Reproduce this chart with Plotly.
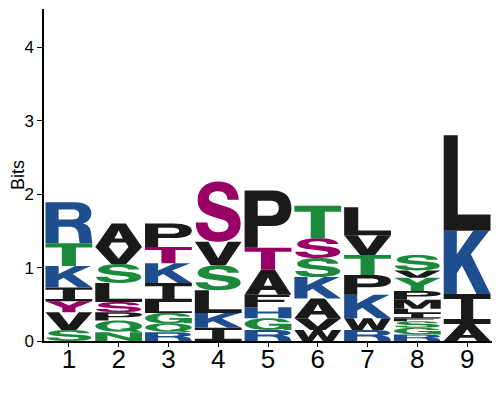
import plotly.graph_objects as go

# ---------------- data (bottom -> top in each column) ----------------
positions = [1, 2, 3, 4, 5, 6, 7, 8, 9]

letters = [
    ["S", "V", "Y", "I", "K", "T", "R"],
    ["N", "Q", "P", "S", "L", "S", "V", "A"],
    ["R", "Q", "G", "L", "I", "K", "T", "P"],
    ["I", "K", "L", "S", "V", "S"],
    ["R", "G", "H", "F", "A", "T", "P"],
    ["W", "V", "A", "K", "S", "S", "T"],
    ["R", "W", "K", "P", "T", "V", "L"],
    ["R", "G", "S", "F", "I", "L", "M", "P", "Y", "V", "S"],
    ["A", "I", "K", "L"],
]

bits = [
    [0.15, 0.24, 0.15, 0.19, 0.29, 0.31, 0.56],
    [0.12, 0.16, 0.11, 0.14, 0.26, 0.26, 0.23, 0.32],
    [0.12, 0.12, 0.14, 0.15, 0.26, 0.27, 0.22, 0.32],
    [0.18, 0.20, 0.31, 0.34, 0.32, 0.82],
    [0.15, 0.16, 0.15, 0.17, 0.34, 0.30, 0.78],
    [0.15, 0.16, 0.27, 0.29, 0.26, 0.27, 0.44],
    [0.15, 0.16, 0.32, 0.27, 0.27, 0.27, 0.38],
    [0.09, 0.09, 0.09, 0.04, 0.07, 0.06, 0.12, 0.12, 0.18, 0.10, 0.21],
    [0.23, 0.41, 0.86, 1.30],
]

# colour class per letter: g = polar, k = hydrophobic, b = basic, m = modified
classes = [
    ["g", "k", "m", "k", "b", "g", "b"],
    ["g", "g", "k", "m", "k", "g", "k", "k"],
    ["b", "g", "g", "k", "k", "b", "m", "k"],
    ["k", "b", "k", "g", "k", "m"],
    ["b", "g", "b", "k", "k", "m", "k"],
    ["k", "k", "k", "b", "g", "m", "g"],
    ["b", "k", "b", "k", "g", "k", "k"],
    ["b", "g", "g", "k", "k", "k", "k", "k", "g", "k", "g"],
    ["k", "k", "b", "k"],
]

tick_labels = ["1", "2", "3", "4", "5", "6", "7", "8", "9"]
y_ticks = [0, 1, 2, 3, 4]

palette = {"g": "#1B8A3C", "k": "#1A1A1A", "b": "#1F4E8F", "m": "#990066"}

# ---------------- glyph outlines in a unit box ----------------
def poly(*pts):
    return [("M",) + pts[0]] + [("L",) + p for p in pts[1:]]


def ellipse(cx, cy, rx, ry):
    k = 0.5523
    return [
        ("M", cx, cy - ry),
        ("C", cx + k * rx, cy - ry, cx + rx, cy - k * ry, cx + rx, cy),
        ("C", cx + rx, cy + k * ry, cx + k * rx, cy + ry, cx, cy + ry),
        ("C", cx - k * rx, cy + ry, cx - rx, cy + k * ry, cx - rx, cy),
        ("C", cx - rx, cy - k * ry, cx - k * rx, cy - ry, cx, cy - ry),
    ]


GLYPHS = {
    "I": [[poly((0, 0), (1, 0), (1, 0.17), (0.63, 0.17), (0.63, 0.83), (1, 0.83),
                (1, 1), (0, 1), (0, 0.83), (0.37, 0.83), (0.37, 0.17), (0, 0.17))]],
    "L": [[poly((0, 0), (1, 0), (1, 0.17), (0.3, 0.17), (0.3, 1), (0, 1))]],
    "T": [[poly((0.35, 0), (0.65, 0), (0.65, 0.82), (1, 0.82), (1, 1), (0, 1),
                (0, 0.82), (0.35, 0.82))]],
    "V": [[poly((0, 1), (0.29, 1), (0.5, 0.3), (0.71, 1), (1, 1), (0.66, 0), (0.34, 0))]],
    "A": [[poly((0, 0), (0.29, 0), (0.35, 0.19), (0.65, 0.19), (0.71, 0), (1, 0),
                (0.65, 1), (0.35, 1)),
           poly((0.41, 0.36), (0.59, 0.36), (0.5, 0.7))]],
    "K": [[poly((0, 0), (0.28, 0), (0.28, 0.33), (0.39, 0.45), (0.7, 0), (1, 0),
                (0.58, 0.63), (0.97, 1), (0.63, 1), (0.28, 0.63), (0.28, 1), (0, 1))]],
    "H": [[poly((0, 0), (0.28, 0), (0.28, 0.42), (0.72, 0.42), (0.72, 0), (1, 0),
                (1, 1), (0.72, 1), (0.72, 0.6), (0.28, 0.6), (0.28, 1), (0, 1))]],
    "F": [[poly((0, 0), (0.28, 0), (0.28, 0.42), (0.85, 0.42), (0.85, 0.6),
                (0.28, 0.6), (0.28, 0.82), (0.96, 0.82), (0.96, 1), (0, 1))]],
    "M": [[poly((0, 0), (0.22, 0), (0.22, 0.7), (0.4, 0), (0.6, 0), (0.78, 0.7),
                (0.78, 0), (1, 0), (1, 1), (0.68, 1), (0.5, 0.36), (0.32, 1), (0, 1))]],
    "W": [[poly((0, 1), (0.2, 1), (0.3, 0.36), (0.41, 1), (0.59, 1), (0.7, 0.36),
                (0.8, 1), (1, 1), (0.83, 0), (0.61, 0), (0.5, 0.6), (0.39, 0), (0.17, 0))]],
    "N": [[poly((0, 0), (0.26, 0), (0.26, 0.62), (0.72, 0), (1, 0), (1, 1),
                (0.74, 1), (0.74, 0.38), (0.28, 1), (0, 1))]],
    "Y": [[poly((0, 1), (0.3, 1), (0.5, 0.62), (0.7, 1), (1, 1), (0.64, 0.42),
                (0.64, 0), (0.36, 0), (0.36, 0.42))]],
    "P": [[[("M", 0, 0), ("L", 0.28, 0), ("L", 0.28, 0.38), ("L", 0.6, 0.38),
            ("C", 0.87, 0.38, 1, 0.5, 1, 0.69), ("C", 1, 0.88, 0.87, 1, 0.6, 1),
            ("L", 0, 1)],
           [("M", 0.28, 0.56), ("L", 0.56, 0.56), ("C", 0.68, 0.56, 0.73, 0.62, 0.73, 0.69),
            ("C", 0.73, 0.77, 0.68, 0.82, 0.56, 0.82), ("L", 0.28, 0.82)]]],
    "R": [[[("M", 0, 0), ("L", 0.28, 0), ("L", 0.28, 0.4), ("L", 0.5, 0.4),
            ("C", 0.62, 0.4, 0.68, 0.35, 0.7, 0.25), ("L", 0.73, 0), ("L", 1, 0),
            ("L", 0.97, 0.28), ("C", 0.95, 0.4, 0.9, 0.45, 0.8, 0.48),
            ("C", 0.93, 0.53, 0.98, 0.62, 0.98, 0.73), ("C", 0.98, 0.9, 0.86, 1, 0.62, 1),
            ("L", 0, 1)],
           [("M", 0.28, 0.58), ("L", 0.58, 0.58), ("C", 0.68, 0.58, 0.72, 0.63, 0.72, 0.7),
            ("C", 0.72, 0.77, 0.68, 0.82, 0.58, 0.82), ("L", 0.28, 0.82)]]],
    "S": [[[("M", 0.94, 0.7), ("C", 0.93, 0.9, 0.75, 1.0, 0.5, 1.0),
            ("C", 0.25, 1.0, 0.06, 0.88, 0.06, 0.7), ("C", 0.06, 0.52, 0.2, 0.46, 0.42, 0.41),
            ("L", 0.58, 0.37), ("C", 0.68, 0.345, 0.72, 0.32, 0.72, 0.27),
            ("C", 0.72, 0.2, 0.64, 0.16, 0.5, 0.16), ("C", 0.36, 0.16, 0.28, 0.22, 0.27, 0.32),
            ("L", 0.02, 0.32), ("C", 0.02, 0.1, 0.2, 0, 0.5, 0),
            ("C", 0.8, 0, 0.98, 0.12, 0.98, 0.3), ("C", 0.98, 0.48, 0.85, 0.55, 0.6, 0.6),
            ("L", 0.44, 0.64), ("C", 0.34, 0.66, 0.3, 0.69, 0.3, 0.73),
            ("C", 0.3, 0.8, 0.38, 0.84, 0.5, 0.84), ("C", 0.62, 0.84, 0.69, 0.79, 0.7, 0.7)]]],
    "G": [[[("M", 0.97, 0.66), ("L", 0.72, 0.66), ("C", 0.69, 0.78, 0.6, 0.84, 0.5, 0.84),
            ("C", 0.33, 0.84, 0.27, 0.68, 0.27, 0.5), ("C", 0.27, 0.3, 0.35, 0.16, 0.52, 0.16),
            ("C", 0.65, 0.16, 0.73, 0.24, 0.74, 0.36), ("L", 0.52, 0.36), ("L", 0.52, 0.52),
            ("L", 1, 0.52), ("L", 1, 0), ("L", 0.85, 0), ("L", 0.82, 0.1),
            ("C", 0.75, 0.03, 0.65, 0, 0.5, 0), ("C", 0.2, 0, 0, 0.22, 0, 0.5),
            ("C", 0, 0.8, 0.2, 1, 0.5, 1), ("C", 0.78, 1, 0.94, 0.86, 0.97, 0.66)]]],
    "Q": [[ellipse(0.5, 0.52, 0.5, 0.48), ellipse(0.5, 0.52, 0.25, 0.31)],
          [poly((0.52, 0.3), (0.72, 0.36), (1.0, 0.06), (0.82, 0.0))]],
}


def glyph_paths(letter, x0, x1, y0, y1):
    w, h = x1 - x0, y1 - y0
    out = []
    for group in GLYPHS[letter]:
        parts = []
        for sub in group:
            for cmd in sub:
                nums = cmd[1:]
                coords = []
                for i in range(0, len(nums), 2):
                    coords.append(f"{x0 + nums[i] * w:.5f},{y0 + nums[i + 1] * h:.5f}")
                parts.append(cmd[0] + " ".join(coords))
            parts.append("Z")
        out.append(" ".join(parts))
    return out


# ---------------- build figure ----------------
letter_width = 0.94
shapes = []
totals = []
for pos, col_letters, col_bits, col_cls in zip(positions, letters, bits, classes):
    base = 0.0
    for let, b, c in zip(col_letters, col_bits, col_cls):
        for p in glyph_paths(let, pos - letter_width / 2, pos + letter_width / 2, base, base + b):
            shapes.append(dict(type="path", path=p, xref="x", yref="y",
                               fillcolor=palette[c], line=dict(width=0),
                               fillrule="evenodd", layer="above"))
        base += b
    totals.append(base)

fig = go.Figure()
fig.add_trace(go.Scatter(x=positions, y=totals, mode="markers",
                         marker=dict(opacity=0), hoverinfo="skip", showlegend=False))

# the page body adds an 8px offset, so the figure is sized 492x392
fig.update_layout(
    width=492, height=392,
    margin=dict(l=36, r=8, t=1, b=59),
    paper_bgcolor="white", plot_bgcolor="white",
    shapes=shapes,
    font=dict(family="Liberation Sans, Arial, sans-serif", color="black"),
    showlegend=False,
)
fig.update_xaxes(
    range=[0.5, 9.5], tickmode="array", tickvals=positions, ticktext=tick_labels,
    showline=True, linecolor="black", linewidth=1.5, ticks="outside", ticklen=4,
    tickwidth=1, tickcolor="black", showgrid=False, zeroline=False, automargin=False,
    tickfont=dict(size=26, family="Liberation Sans, Arial, sans-serif"),
    ticklabelstandoff=-10,
)
fig.update_yaxes(
    range=[0, 4.52], tickmode="array", tickvals=y_ticks,
    showline=True, linecolor="black", linewidth=1.5, ticks="outside", ticklen=5,
    tickwidth=1, tickcolor="black", showgrid=False, zeroline=False, automargin=False,
    tickfont=dict(size=17, family="Liberation Sans, Arial, sans-serif"),
    title=dict(text="Bits", font=dict(size=18), standoff=2),
)

fig.write_html("out.html")
